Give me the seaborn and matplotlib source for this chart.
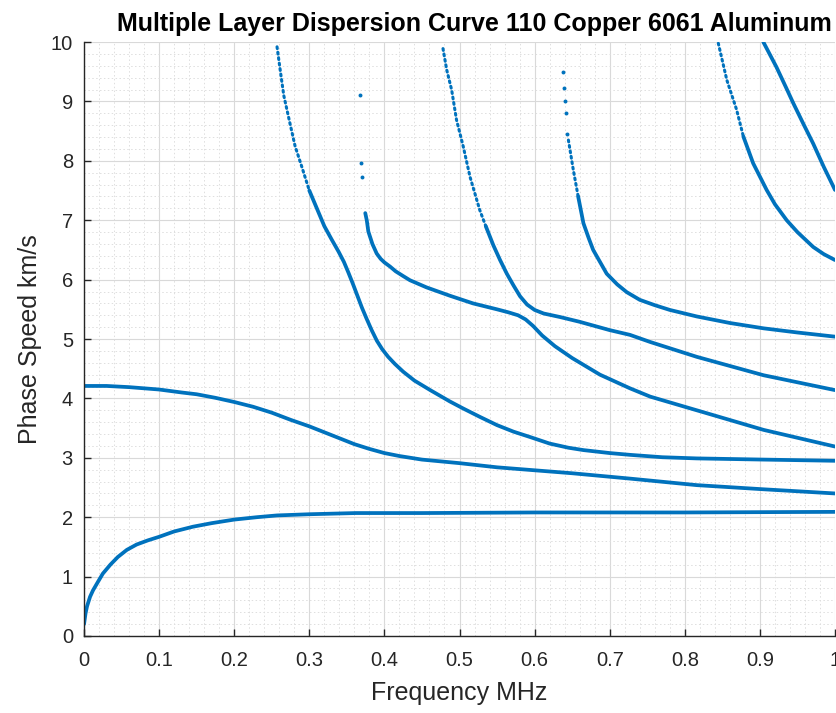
import numpy as np
import pandas as pd
import matplotlib
matplotlib.use("Agg")
import matplotlib.pyplot as plt
from matplotlib.ticker import MultipleLocator
import seaborn as sns

# Phase-speed dispersion modes (frequency in MHz, phase speed in km/s)
a0_f = [0, 0.002, 0.004, 0.008, 0.012, 0.018, 0.025, 0.035, 0.045, 0.057, 0.07, 0.085, 0.1, 0.12, 0.145,
        0.17, 0.2, 0.23, 0.257, 0.3, 0.362, 0.45, 0.6, 0.8, 1.0]
a0_v = [0.2, 0.38, 0.5, 0.66, 0.77, 0.9, 1.05, 1.2, 1.33, 1.45, 1.54, 1.61, 1.67, 1.76, 1.84,
        1.9, 1.96, 2.0, 2.03, 2.05, 2.07, 2.07, 2.08, 2.08, 2.09]

s0_f = [0, 0.03, 0.06, 0.1, 0.13, 0.15, 0.175, 0.2, 0.225, 0.25, 0.275, 0.3, 0.32, 0.34, 0.36, 0.38,
        0.40, 0.42, 0.45, 0.5, 0.55, 0.6, 0.65, 0.727, 0.816, 0.905, 1.0]
s0_v = [4.21, 4.21, 4.19, 4.15, 4.1, 4.07, 4.01, 3.94, 3.86, 3.76, 3.64, 3.53, 3.43, 3.33, 3.23, 3.15,
        3.08, 3.03, 2.97, 2.91, 2.84, 2.79, 2.74, 2.65, 2.54, 2.47, 2.40]

m2_f = [0.257, 0.261, 0.266, 0.273, 0.281, 0.290, 0.300, 0.310, 0.320, 0.330, 0.339, 0.346, 0.352, 0.358,
        0.364, 0.370, 0.376, 0.383, 0.390, 0.397, 0.405, 0.414, 0.425, 0.44, 0.461, 0.487, 0.505, 0.527,
        0.55, 0.572, 0.594, 0.62, 0.645, 0.665, 0.70, 0.727, 0.77, 0.816, 0.905, 1.0]
m2_v = [9.92, 9.55, 9.1, 8.7, 8.25, 7.9, 7.5, 7.2, 6.9, 6.67, 6.47, 6.3, 6.12, 5.93,
        5.73, 5.53, 5.35, 5.15, 4.97, 4.83, 4.7, 4.58, 4.45, 4.3, 4.14, 3.95, 3.83, 3.69,
        3.55, 3.44, 3.35, 3.24, 3.17, 3.13, 3.08, 3.05, 3.01, 2.99, 2.97, 2.95]

m3_f = [0.3745, 0.3765, 0.3786, 0.384, 0.3897, 0.395, 0.40, 0.4075, 0.415, 0.425, 0.434, 0.456, 0.487,
        0.518, 0.55, 0.565, 0.578, 0.588, 0.598, 0.61, 0.627, 0.65, 0.687, 0.727, 0.754, 0.816, 0.905, 1.0]
m3_v = [7.12, 7.0, 6.81, 6.6, 6.44, 6.35, 6.29, 6.22, 6.14, 6.06, 5.99, 5.87, 5.73,
        5.6, 5.5, 5.45, 5.4, 5.33, 5.22, 5.06, 4.88, 4.68, 4.40, 4.17, 4.03, 3.80, 3.47, 3.19]
m3_iso_f = [0.3675, 0.3683, 0.370]
m3_iso_v = [9.11, 7.96, 7.73]

m4_f = [0.478, 0.483, 0.4896, 0.496, 0.505, 0.514, 0.527, 0.535, 0.545, 0.554, 0.563, 0.572, 0.5806,
        0.59, 0.60, 0.612, 0.634, 0.66, 0.70, 0.727, 0.754, 0.816, 0.905, 1.0]
m4_v = [9.89, 9.53, 9.19, 8.69, 8.24, 7.73, 7.17, 6.9, 6.58, 6.33, 6.1, 5.9, 5.72,
        5.58, 5.49, 5.43, 5.37, 5.29, 5.15, 5.07, 4.95, 4.70, 4.39, 4.14]

m5_f = [0.645, 0.6515, 0.658, 0.665, 0.672, 0.678, 0.687, 0.696, 0.71, 0.7226, 0.74, 0.76, 0.78,
        0.816, 0.86, 0.905, 0.95, 1.0]
m5_v = [8.35, 7.85, 7.4, 6.95, 6.7, 6.5, 6.3, 6.1, 5.92, 5.79, 5.66, 5.57, 5.49,
        5.38, 5.27, 5.18, 5.11, 5.04]
m5_iso_f = [0.638, 0.6396, 0.641, 0.642, 0.6427]
m5_iso_v = [9.5, 9.22, 9.0, 8.8, 8.46]

m6_f = [0.8446, 0.856, 0.869, 0.878, 0.891, 0.909, 0.92, 0.9357, 0.95, 0.971, 0.985, 1.0]
m6_v = [9.98, 9.36, 8.86, 8.41, 7.96, 7.51, 7.27, 7.0, 6.8, 6.55, 6.43, 6.33]

m7_f = [0.9046, 0.922, 0.935, 0.9445, 0.958, 0.971, 0.985, 1.0]
m7_v = [10.0, 9.58, 9.23, 8.97, 8.62, 8.29, 7.9, 7.51]

x_ticks = [0, 0.1, 0.2, 0.3, 0.4, 0.5, 0.6, 0.7, 0.8, 0.9, 1.0]
x_tick_labels = ["0", "0.1", "0.2", "0.3", "0.4", "0.5", "0.6", "0.7", "0.8", "0.9", "1"]
y_ticks = list(range(0, 11))

# speed above which each mode's computed roots are sparse (drawn dotted)
modes = [
    (a0_f, a0_v, None),
    (s0_f, s0_v, None),
    (m2_f, m2_v, 7.5),
    (m3_f, m3_v, None),
    (m4_f, m4_v, 6.9),
    (m5_f, m5_v, 7.4),
    (m6_f, m6_v, 8.4),
    (m7_f, m7_v, None),
]

blue = "#0072BD"

sns.set_style("ticks")
plt.rcParams["font.family"] = ["Liberation Sans", "DejaVu Sans"]

fig = plt.figure(figsize=(8.37, 7.13), dpi=100)
ax = fig.add_axes([0.1004, 0.108, 0.8972, 0.833])

for f, v, sparse_above in modes:
    df = pd.DataFrame({"f": f, "v": v})
    if sparse_above is None:
        sns.lineplot(data=df, x="f", y="v", sort=False, estimator=None, ax=ax,
                     color=blue, lw=2.7, solid_capstyle="round", solid_joinstyle="round")
    else:
        top = df[df["v"] >= sparse_above]
        k = len(top)
        low = df.iloc[k - 1:]
        sns.lineplot(data=top, x="f", y="v", sort=False, estimator=None, ax=ax,
                     color=blue, lw=2.2, linestyle=(0, (0.6, 1.2)), dash_capstyle="round")
        sns.lineplot(data=low, x="f", y="v", sort=False, estimator=None, ax=ax,
                     color=blue, lw=2.7, solid_capstyle="round", solid_joinstyle="round")

iso = pd.DataFrame({"f": m3_iso_f + m5_iso_f, "v": m3_iso_v + m5_iso_v})
sns.scatterplot(data=iso, x="f", y="v", ax=ax, color=blue, s=8, linewidth=0)

ax.set_xlim(0, 1)
ax.set_ylim(0, 10)
ax.set_xticks(x_ticks)
ax.set_xticklabels(x_tick_labels)
ax.set_yticks(y_ticks)
ax.xaxis.set_minor_locator(MultipleLocator(0.02))
ax.yaxis.set_minor_locator(MultipleLocator(0.2))

ax.grid(which="major", color="#d9d9d9", lw=0.8, ls="-")
ax.grid(which="minor", color="#dedede", lw=0.7, ls=(0, (1.5, 2.5)))
ax.set_axisbelow(True)

for side in ("top", "right"):
    ax.spines[side].set_visible(False)
for side in ("left", "bottom"):
    ax.spines[side].set_color("#262626")
    ax.spines[side].set_linewidth(1.0)

ax.tick_params(which="major", direction="in", length=5, width=1.0, color="#262626",
               labelsize=14.5, labelcolor="#262626", pad=8)
ax.tick_params(axis="x", which="major", pad=11)
ax.tick_params(which="minor", length=0)

ax.set_xlabel("Frequency MHz", fontsize=18, color="#262626", labelpad=8)
ax.set_ylabel("Phase Speed km/s", fontsize=18, color="#262626", labelpad=6)
ax.set_title("Multiple Layer Dispersion Curve 110 Copper 6061 Aluminum",
             fontsize=18, fontweight="bold", color="black", pad=8, x=0.52)

fig.savefig("out.png", dpi=100)
